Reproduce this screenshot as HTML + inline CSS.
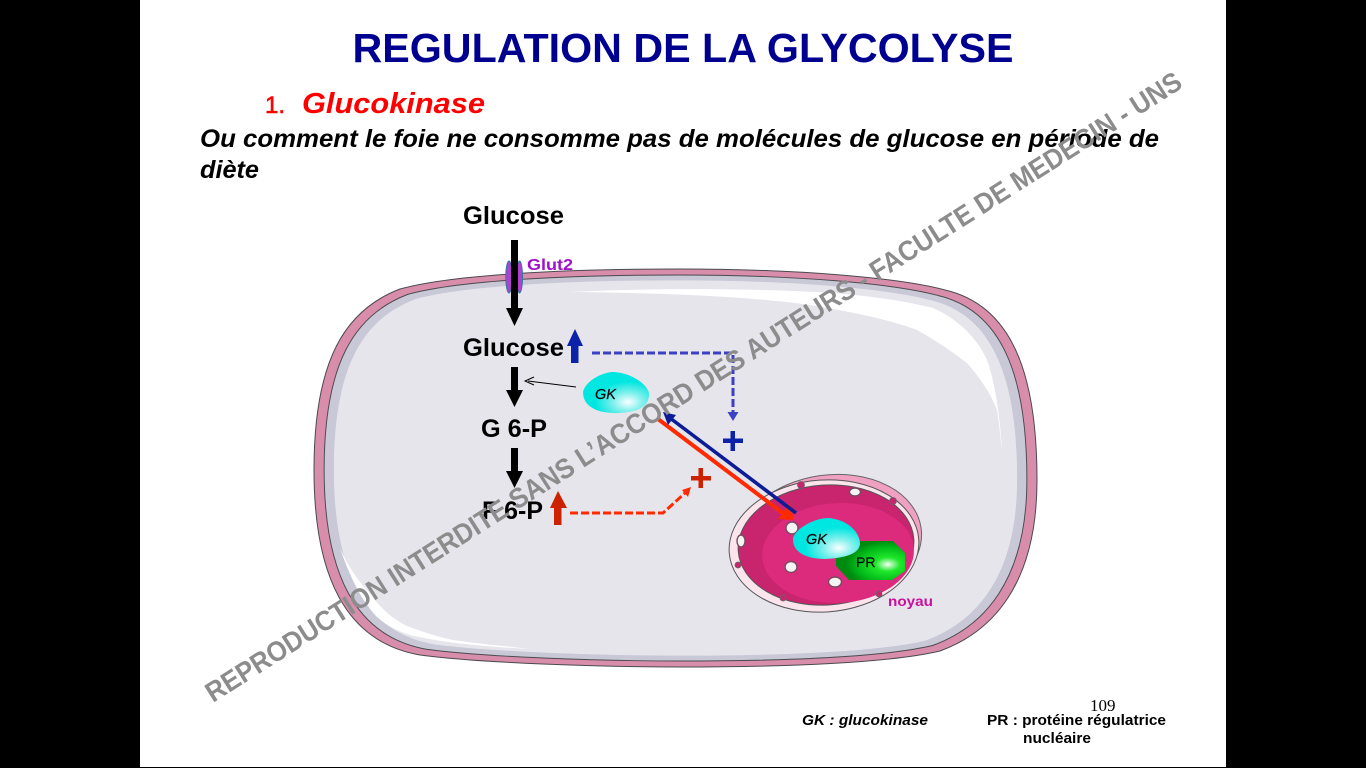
<!DOCTYPE html>
<html lang="fr"><head><meta charset="utf-8"><title>Regulation de la glycolyse</title>
<style>html,body{margin:0;padding:0;background:#000;width:1366px;height:768px;overflow:hidden}svg{display:block}text{font-family:"Liberation Sans",sans-serif}</style></head>
<body>
<svg width="1366" height="768" viewBox="0 0 1366 768" xmlns="http://www.w3.org/2000/svg">
<defs>
<radialGradient id="gk" cx="0.68" cy="0.73" r="0.5"><stop offset="0" stop-color="#f8ffff"/><stop offset="0.45" stop-color="#80f0ec"/><stop offset="1" stop-color="#00e6e0"/></radialGradient>
<radialGradient id="pr" cx="0.75" cy="0.6" r="0.6"><stop offset="0" stop-color="#f2fff2"/><stop offset="0.3" stop-color="#1fe82a"/><stop offset="0.75" stop-color="#00b818"/><stop offset="1" stop-color="#008a10"/></radialGradient>
<path id="cell" d="M680 269 C800 269 900 278 945 290 C1010 305 1037 370 1037 480 C1037 585 992 632 940 651 C880 665 760 667 680 667 C600 667 480 663 420 655 C345 642 314 575 314 470 C314 360 345 310 400 289 C450 275 560 269 680 269 Z"/>
</defs>
<rect x="0" y="0" width="1366" height="768" fill="#000"/>
<rect x="140" y="0" width="1086" height="767" fill="#fff"/>

<text x="683" y="62" text-anchor="middle" font-size="41" font-weight="700" fill="#000090" textLength="661" lengthAdjust="spacingAndGlyphs">REGULATION DE LA GLYCOLYSE</text>
<text x="265" y="113" font-size="24" fill="#ff0000" stroke="#ff0000" stroke-width="0.6">1.</text>
<text x="302" y="113" font-size="29" font-weight="700" font-style="italic" fill="#ff0000" textLength="183" lengthAdjust="spacingAndGlyphs">Glucokinase</text>
<text x="200" y="147" font-size="25" font-weight="700" font-style="italic" fill="#000" textLength="959" lengthAdjust="spacingAndGlyphs">Ou comment le foie ne consomme pas de molécules de glucose en période de</text>
<text x="200" y="178" font-size="25" font-weight="700" font-style="italic" fill="#000" textLength="59" lengthAdjust="spacingAndGlyphs">diète</text>

<!-- cell -->
<use href="#cell" fill="#d88dab" stroke="#4a4a4e" stroke-width="1"/>
<use href="#cell" transform="translate(675.5 468) scale(0.972 0.97) translate(-675.5 -468)" fill="#c8c8d6" stroke="#4a4a4e" stroke-width="1"/>
<use href="#cell" transform="translate(675.5 468) scale(0.945 0.943) translate(-675.5 -468)" fill="#e7e5ec"/>
<path d="M570 292 C650 288 750 288 833 293 C870 296 905 301 933 308 C960 320 978 340 987 360 C996 385 1000 420 1002 450 C1000 435 999 422 997 410 C990 392 980 378 967 363 C950 350 935 340 917 330 C890 320 860 314 833 309 C780 298 680 293 570 292 Z" fill="#fff"/>
<path d="M340 548 C344 560 348 570 353 580 C360 595 368 608 377 617 C387 626 398 631 410 635 C440 642 475 646 530 649 C505 646 480 644 453 640 C435 636 420 631 407 626 C385 615 375 600 367 590 C358 580 350 570 340 548 Z" fill="#fff"/>

<!-- Glut2 -->
<ellipse cx="509" cy="277" rx="3.2" ry="16" fill="#b040d0" stroke="#2a7a98" stroke-width="1"/>
<ellipse cx="519.5" cy="277" rx="3" ry="16" fill="#b040d0" stroke="#2a7a98" stroke-width="1"/>
<rect x="511" y="240" width="7" height="70" fill="#000"/>
<polygon points="506,308 523,308 514.5,326" fill="#000"/>
<text x="527" y="270" font-size="16" font-weight="700" fill="#a010c8" textLength="46" lengthAdjust="spacingAndGlyphs">Glut2</text>

<text x="463" y="224" font-size="25" font-weight="700" fill="#000" textLength="101" lengthAdjust="spacingAndGlyphs">Glucose</text>
<text x="463" y="356" font-size="25" font-weight="700" fill="#000" textLength="101" lengthAdjust="spacingAndGlyphs">Glucose</text>
<text x="481" y="437" font-size="25" font-weight="700" fill="#000" textLength="66" lengthAdjust="spacingAndGlyphs">G 6-P</text>
<text x="482" y="519" font-size="25" font-weight="700" fill="#000" textLength="61" lengthAdjust="spacingAndGlyphs">F 6-P</text>

<rect x="511" y="367" width="7" height="24" fill="#000"/>
<polygon points="506,390 523,390 514.5,407" fill="#000"/>
<rect x="511" y="448" width="7" height="24" fill="#000"/>
<polygon points="506,471 523,471 514.5,488" fill="#000"/>

<!-- up arrows -->
<polygon points="575,329 583,346 578.5,346 578.5,363 571,363 571,346 567,346" fill="#0c22a8"/>
<polygon points="558,491 567,508 561.5,508 561.5,525 554,525 554,508 550,508" fill="#cc2200"/>

<!-- thin arrow -->
<line x1="576" y1="387" x2="528" y2="381" stroke="#000" stroke-width="1"/>
<path d="M534 377 L525 381 L534 385" fill="none" stroke="#000" stroke-width="1"/>

<!-- GK top -->
<path d="M583 392 C585 382 600 373 612 372 C628 372 646 382 649 393 C650 405 640 412 620 413 C600 414 583 408 583 392 Z" fill="url(#gk)"/>
<text x="595" y="399" font-size="14.5" font-style="italic" fill="#000" stroke="#000" stroke-width="0.2">GK</text>

<!-- dashed blue -->
<path d="M592 353 L733 353 L733 412" fill="none" stroke="#3c40c4" stroke-width="3" stroke-dasharray="8 3"/>
<polygon points="727.5,412 738.5,412 733,421" fill="#3c40c4"/>
<rect x="723" y="438.5" width="20" height="4.5" fill="#0c22a8"/>
<rect x="730.5" y="431" width="4.5" height="20" fill="#0c22a8"/>

<!-- dashed red -->
<path d="M570 513 L663 513 L685 493" fill="none" stroke="#ff2a00" stroke-width="3" stroke-dasharray="8 3"/>
<polygon points="682,490 691,487 688,497" fill="#ff2a00"/>
<rect x="691" y="476" width="20" height="4.5" fill="#cc2200"/>
<rect x="698.5" y="468" width="4.5" height="20" fill="#cc2200"/>

<!-- nucleus -->
<ellipse cx="829" cy="541" rx="93" ry="66" transform="rotate(-8 829 541)" fill="#f0a0c0" stroke="#666" stroke-width="1"/>
<ellipse cx="824" cy="546" rx="95" ry="66" transform="rotate(-4 824 546)" fill="#fbe4ec" stroke="#555" stroke-width="1"/>
<ellipse cx="826" cy="545" rx="88" ry="60" transform="rotate(-4 826 545)" fill="#c9246e" stroke="#555" stroke-width="1"/>
<ellipse cx="838" cy="553" rx="76" ry="50" transform="rotate(-3 838 553)" fill="#dc2a7c"/>
<g fill="#f4f4f4" stroke="#7a4a60" stroke-width="1.4">
<ellipse cx="792" cy="528" rx="6" ry="6"/>
<ellipse cx="791" cy="567" rx="6" ry="5.5"/>
<ellipse cx="835" cy="582" rx="6.5" ry="5"/>
<ellipse cx="855" cy="492" rx="5.5" ry="4"/>
<ellipse cx="741" cy="541" rx="4" ry="6"/>
</g>
<g fill="#c9246e" stroke="#666" stroke-width="0.8">
<circle cx="801" cy="485" r="3.5"/><circle cx="738" cy="565" r="3"/><circle cx="783" cy="598" r="3"/><circle cx="879" cy="594" r="3"/><circle cx="893" cy="501" r="3.5"/>
</g>

<!-- PR -->
<polygon points="846,541 893,541 905,553 905,571 892,580 849,580 836,566 836,553" fill="url(#pr)"/>
<text x="856" y="567" font-size="14" fill="#000" stroke="#000" stroke-width="0.2">PR</text>
<!-- GK nucleus -->
<path d="M793 538 C796 528 815 518 828 518 C845 519 859 530 860 543 C860 554 845 558 825 559 C806 559 792 552 793 538 Z" fill="url(#gk)"/>
<text x="806" y="544" font-size="14.5" font-style="italic" fill="#000" stroke="#000" stroke-width="0.2">GK</text>

<!-- diagonal arrows -->
<line x1="658" y1="419" x2="784" y2="514" stroke="#ff2a00" stroke-width="4"/>
<polygon points="778,519 794,520 790,503" fill="#ff2a00"/>
<line x1="796" y1="513" x2="670" y2="418" stroke="#0c1c98" stroke-width="3.6"/>
<polygon points="663,412 676,415 668,425" fill="#0c1c98"/>

<text x="888" y="606" font-size="14" font-weight="700" fill="#c8109c" textLength="45" lengthAdjust="spacingAndGlyphs">noyau</text>

<!-- footer -->
<text x="802" y="725" font-size="14.5" font-weight="700" font-style="italic" fill="#000" textLength="126" lengthAdjust="spacingAndGlyphs">GK : glucokinase</text>
<text x="1090" y="711" font-size="17" fill="#000" style='font-family:"Liberation Serif",serif'>109</text>
<text x="987" y="725" font-size="14.5" font-weight="700" fill="#000" textLength="179" lengthAdjust="spacingAndGlyphs">PR : protéine régulatrice</text>
<text x="1023" y="743" font-size="14.5" font-weight="700" fill="#000" textLength="68" lengthAdjust="spacingAndGlyphs">nucléaire</text>

<!-- watermark -->
<text transform="translate(213,703) rotate(-32.4)" font-size="28" font-weight="700" fill="#8c8c8c" textLength="1150" lengthAdjust="spacingAndGlyphs">REPRODUCTION INTERDITE SANS L’ACCORD DES AUTEURS - FACULTE DE MEDECIN - UNS</text>
</svg>
</body></html>
